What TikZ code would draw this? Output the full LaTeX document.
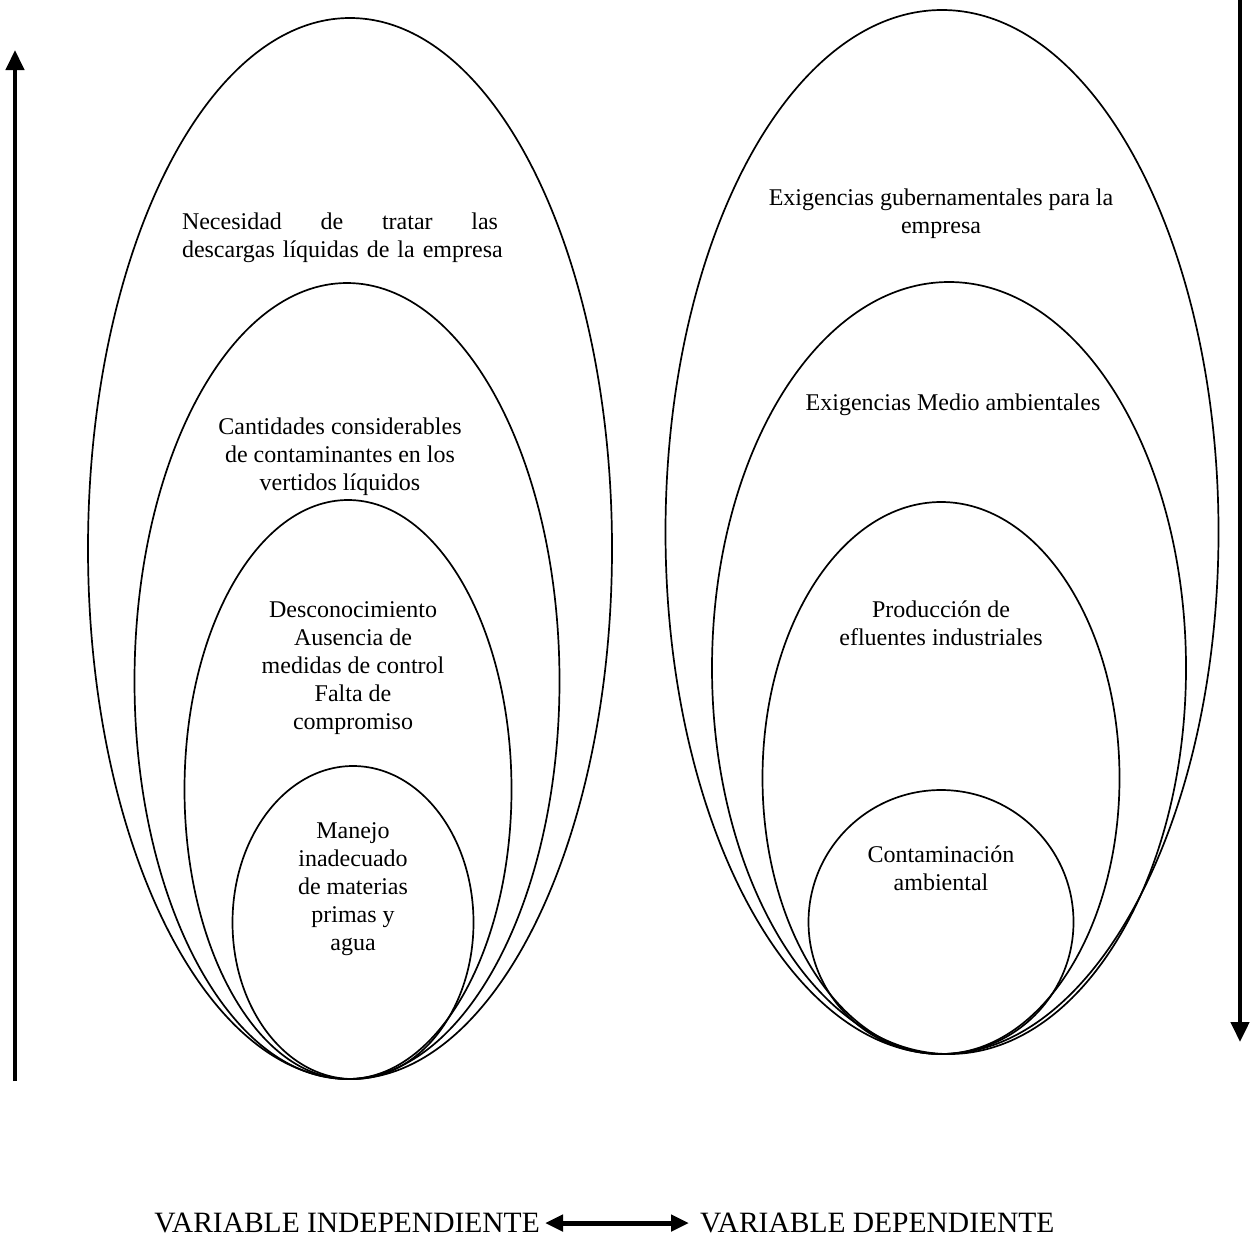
\documentclass[tikz,border=0pt]{standalone}
\usepackage{fontspec}
\setmainfont{Liberation Serif}
\usetikzlibrary{arrows.meta}
\begin{document}
\begin{tikzpicture}[x=1pt,y=-1pt,
  ell/.style={draw, line width=1.7pt},
  lbl/.style={align=center, font=\fontsize{24}{28}\selectfont, inner sep=0pt},
  big/.style={font=\fontsize{29.5}{32}\selectfont, inner sep=0pt},
  axis/.style={line width=4.5pt, -{Triangle[width=18pt,length=20pt]}}]
\useasboundingbox (0,0) rectangle (1257,1243);
% left ellipses
\draw[ell] (350,548.5) ellipse [x radius=262, y radius=530.5];
\draw[ell] (347,681) ellipse [x radius=212.5, y radius=398];
\draw[ell] (348,789.5) ellipse [x radius=163.5, y radius=289.5];
\draw[ell] (353,922.5) ellipse [x radius=120.5, y radius=156.5];
% right ellipses
\draw[ell] (942,532) ellipse [x radius=276.5, y radius=522];
\draw[ell] (949,668) ellipse [x radius=237, y radius=386];
\draw[ell] (941,778) ellipse [x radius=178.5, y radius=276];
\draw[ell] (941,922) ellipse [x radius=132.5, y radius=132];
% labels
\node[lbl, text width=316pt, align=left] (n1) at (340,238) {\mbox{}Necesidad\hfill de\hfill tratar\hfill las\\\mbox{descargas líquidas de la empresa}};
\node[lbl] (n2) at (340,457) {Cantidades considerables\\de contaminantes en los\\vertidos líquidos};
\node[lbl] (n3) at (353,668) {Desconocimiento\\Ausencia de\\medidas de control\\Falta de\\compromiso};
\node[lbl] (n4) at (353,889) {Manejo\\inadecuado\\de materias\\primas y\\agua};
\node[lbl] (m1) at (941,214) {Exigencias gubernamentales para la\\empresa};
\node[lbl] (m2) at (953,405) {Exigencias Medio ambientales};
\node[lbl] (m3) at (941,623) {Producción de\\efluentes industriales};
\node[lbl] (m4) at (941,868) {Contaminación\\ambiental};
% axes
\coordinate (la) at (15,1081);
\coordinate (lb) at (15,50);
\coordinate (ra) at (1240,0);
\coordinate (rb) at (1240,1042);
\draw[axis] (la) -- (lb);
\draw[axis] (ra) -- (rb);
% bottom
\node[big, anchor=base east] (vi) at (540,1232) {VARIABLE INDEPENDIENTE};
\node[big, anchor=base west] (vd) at (700,1232) {VARIABLE DEPENDIENTE};
\coordinate (ha) at (545,1223);
\coordinate (hb) at (689,1223);
\draw[line width=5pt, {Triangle[width=16pt,length=18pt]}-{Triangle[width=16pt,length=18pt]}] (ha) -- (hb);
\end{tikzpicture}
\end{document}
